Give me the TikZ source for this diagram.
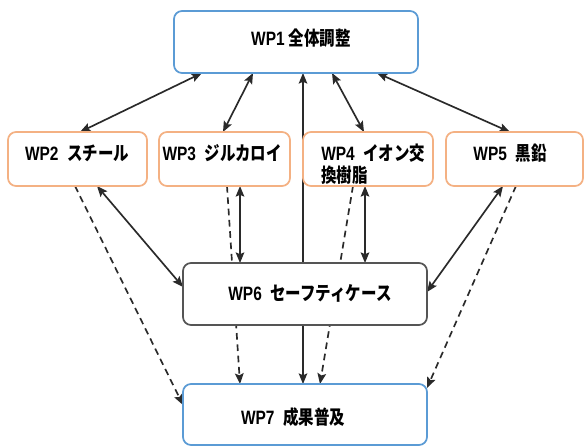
\documentclass[tikz,border=0pt]{standalone}
\usepackage{fontspec}
\setmainfont{Liberation Sans}[FakeStretch=0.8]
\newfontfamily\jp{Noto Sans CJK JP}[FakeStretch=0.8]
\usetikzlibrary{arrows.meta,calc,backgrounds}
\definecolor{boxblue}{HTML}{5B9BD5}
\definecolor{boxorange}{HTML}{F4B183}
\definecolor{boxgray}{HTML}{555555}
\definecolor{linegray}{HTML}{2A2A2A}
\begin{document}
\begin{tikzpicture}[x=0.75pt,y=-0.75pt,
  wpbox/.style={draw, line width=1.3pt, rounded corners=6pt, fill=white,
    inner sep=0pt, outer sep=0pt},
  wptext/.style={font=\bfseries\fontsize{14.5}{16.5}\selectfont, inner sep=0pt},
  tip/.tip={Stealth[length=8pt,width=6.5pt,inset=1.5pt]},
  both/.style={linegray, line width=1.25pt, tip-tip},
  flow/.style={linegray, line width=1.25pt, dash pattern=on 5pt off 3.5pt, -tip}]

\useasboundingbox (0,0) rectangle (586,446);

% work package boxes
\node[wpbox, draw=boxblue, minimum width=183pt, minimum height=46.5pt] (wp1) at (296,42) {};
\node[wpbox, draw=boxorange, minimum width=104.25pt, minimum height=40.5pt] (wp2) at (77.5,159) {};
\node[wpbox, draw=boxorange, minimum width=98.25pt, minimum height=40.5pt] (wp3) at (224.5,159) {};
\node[wpbox, draw=boxorange, minimum width=97.5pt, minimum height=40.5pt] (wp4) at (368,159) {};
\node[wpbox, draw=boxorange, minimum width=102.75pt, minimum height=40.5pt] (wp5) at (514.5,159) {};
\node[wpbox, draw=boxgray, minimum width=183pt, minimum height=46.5pt] (wp6) at (305,294) {};
\node[wpbox, draw=boxblue, minimum width=183pt, minimum height=45.75pt] (wp7) at (305,414.5) {};

% box titles
\node[wptext] (t1) at (301,38) {WP1 {\jp 全体調整}};
\node[wptext] (t2) at (77,153) {WP2\ \ {\jp スチール}};
\node[wptext] (t3) at (222,153) {WP3\ \ {\jp ジルカロイ}};
\node[wptext, align=left, anchor=west] (t4) at (321,164) {WP4\ \ {\jp イオン交}\\{\jp 換樹脂}};
\node[wptext] (t5) at (510,153) {WP5\ \ {\jp 黒鉛}};
\node[wptext] (t6) at (310,293) {WP6\ \ {\jp セーフティケース}};
\node[wptext] (t7) at (293,417) {WP7\ \ {\jp 成果普及}};

\begin{scope}[on background layer]
  \fill[white] (0,0) rectangle (586,446);
  % coordination links
  \draw[both] ($(wp1.south west)+(28,0)$) -- ($(wp2.north west)+(72,0)$);
  \draw[both] ($(wp1.south west)+(79,0)$) -- ($(wp3.north west)+(64,0)$);
  \draw[both] ($(wp1.south west)+(158,0)$) -- ($(wp4.north west)+(61,0)$);
  \draw[both] ($(wp1.south west)+(203,0)$) -- ($(wp5.north west)+(64,0)$);
  \draw[both, line width=0.9pt] ($(wp1.south west)+(129,0)$) -- ($(wp7.north west)+(120,0)$);
  % links to the safety case
  \draw[both] ($(wp2.south west)+(89,0)$) -- ($(wp6.north west)+(0,24)$);
  \draw[both] ($(wp3.south west)+(81,0)$) -- ($(wp6.north west)+(57,0)$);
  \draw[both] ($(wp4.south west)+(62,0)$) -- ($(wp6.north west)+(182,0)$);
  \draw[both] ($(wp5.south west)+(57,0)$) -- ($(wp6.north east)+(0,29)$);
  % results flowing to dissemination
  \draw[flow] ($(wp2.south west)+(67,0)$) -- ($(wp7.north west)+(0,21)$);
  \draw[flow] ($(wp3.south west)+(68,0)$) -- ($(wp7.north west)+(57,0)$);
  \draw[flow] ($(wp4.south west)+(50,0)$) -- ($(wp7.north west)+(137,0)$);
  \draw[flow] ($(wp5.south west)+(70,0)$) -- ($(wp7.north east)+(0,4)$);
\end{scope}
\end{tikzpicture}
\end{document}
